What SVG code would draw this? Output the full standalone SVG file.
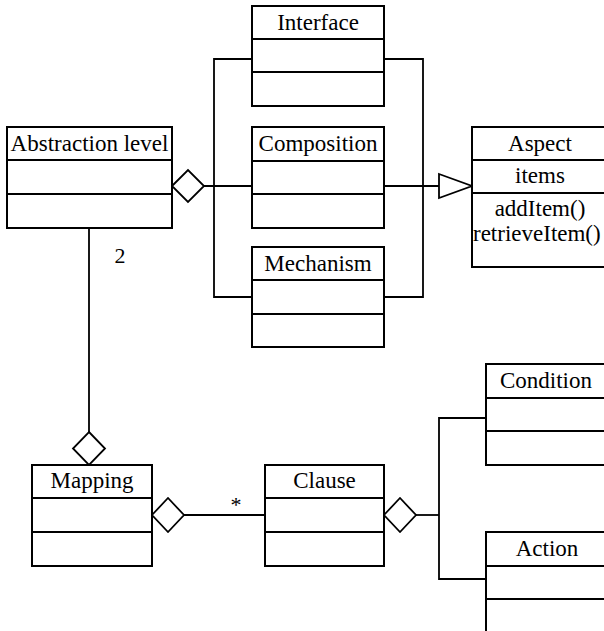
<svg xmlns="http://www.w3.org/2000/svg" width="604" height="631" viewBox="0 0 604 631">
  <style>
    .box { fill: #ffffff; stroke: #000000; stroke-width: 2; }
    .div { stroke: #000000; stroke-width: 2; }
    .conn { fill: none; stroke: #000000; stroke-width: 1.8; }
    .dia { fill: #ffffff; stroke: #000000; stroke-width: 1.8; }
    text { font-family: "Liberation Serif", "Times New Roman", serif; font-size: 23px; fill: #000000; }
    .c { text-anchor: middle; }
  </style>
  <rect width="604" height="631" fill="#ffffff"/>

  <!-- connectors -->
  <g id="connectors">
    <!-- Abstraction level aggregates Interface / Composition / Mechanism -->
    <path class="conn" d="M203,186 H252"/>
    <path class="conn" d="M252,59 H214 V297 H252"/>
    <!-- generalisation to Aspect -->
    <path class="conn" d="M384,59 H423 V297 H384"/>
    <path class="conn" d="M384,186 H439"/>
    <polygon class="dia" points="439,174 472,186 439,198"/>
    <!-- Abstraction level to Mapping -->
    <path class="conn" d="M89,228 V432"/>
    <text x="120" y="263" class="c" style="font-size:22px">2</text>
    <!-- Mapping to Clause -->
    <path class="conn" d="M184,515 H265"/>
    <text x="236" y="512" class="c" style="font-size:22px">*</text>
    <!-- Clause to Condition / Action -->
    <path class="conn" d="M416,515 H439"/>
    <path class="conn" d="M486,418 H439 V579 H486"/>
  </g>

  <!-- aggregation diamonds -->
  <g id="diamonds">
    <polygon class="dia" points="172,186 188,170 204,186 188,202"/>
    <polygon class="dia" points="89,432 105,448.5 89,465 73,448.5"/>
    <polygon class="dia" points="152,515 168,498 184,515 168,532"/>
    <polygon class="dia" points="384,515 400,498 416,515 400,532"/>
  </g>

  <g id="abstraction-level">
    <rect class="box" x="7" y="127" width="165" height="101"/>
    <line class="div" x1="7" y1="160" x2="172" y2="160"/>
    <line class="div" x1="7" y1="194" x2="172" y2="194"/>
    <text x="89.5" y="151" class="c">Abstraction level</text>
  </g>

  <g id="interface">
    <rect class="box" x="252" y="6" width="132" height="100"/>
    <line class="div" x1="252" y1="39" x2="384" y2="39"/>
    <line class="div" x1="252" y1="72" x2="384" y2="72"/>
    <text x="318" y="30" class="c">Interface</text>
  </g>

  <g id="composition">
    <rect class="box" x="252" y="127" width="132" height="101"/>
    <line class="div" x1="252" y1="161" x2="384" y2="161"/>
    <line class="div" x1="252" y1="194" x2="384" y2="194"/>
    <text x="318" y="151" class="c">Composition</text>
  </g>

  <g id="mechanism">
    <rect class="box" x="252" y="247" width="132" height="100"/>
    <line class="div" x1="252" y1="280" x2="384" y2="280"/>
    <line class="div" x1="252" y1="314" x2="384" y2="314"/>
    <text x="318" y="271" class="c">Mechanism</text>
  </g>

  <g id="aspect">
    <rect class="box" x="472" y="127" width="138" height="140"/>
    <line class="div" x1="472" y1="160" x2="610" y2="160"/>
    <line class="div" x1="472" y1="193" x2="610" y2="193"/>
    <text x="540" y="151" class="c">Aspect</text>
    <text x="540" y="183" class="c">items</text>
    <text x="540" y="216" class="c">addItem()</text>
    <text x="473" y="241">retrieveItem()</text>
  </g>

  <g id="mapping">
    <rect class="box" x="32" y="465" width="120" height="101"/>
    <line class="div" x1="32" y1="498" x2="152" y2="498"/>
    <line class="div" x1="32" y1="532" x2="152" y2="532"/>
    <text x="92" y="488" class="c">Mapping</text>
  </g>

  <g id="clause">
    <rect class="box" x="265" y="465" width="119" height="101"/>
    <line class="div" x1="265" y1="498" x2="384" y2="498"/>
    <line class="div" x1="265" y1="532" x2="384" y2="532"/>
    <text x="324.5" y="488" class="c">Clause</text>
  </g>

  <g id="condition">
    <rect class="box" x="486" y="364" width="122" height="101"/>
    <line class="div" x1="486" y1="398" x2="608" y2="398"/>
    <line class="div" x1="486" y1="431" x2="608" y2="431"/>
    <text x="546" y="388" class="c">Condition</text>
  </g>

  <g id="action">
    <rect class="box" x="486" y="532" width="122" height="110"/>
    <line class="div" x1="486" y1="566" x2="608" y2="566"/>
    <line class="div" x1="486" y1="599" x2="608" y2="599"/>
    <text x="547" y="556" class="c">Action</text>
  </g>
</svg>
